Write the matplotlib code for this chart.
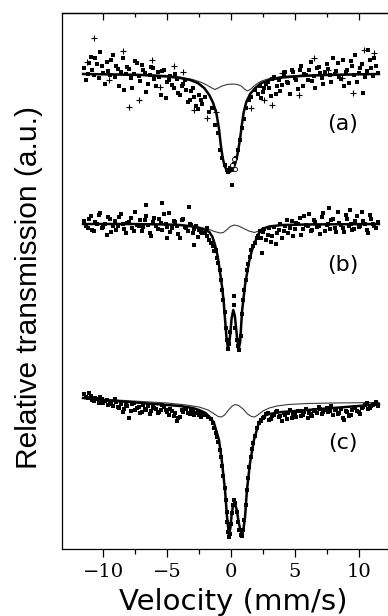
import numpy as np
import matplotlib.pyplot as plt

# Mossbauer spectra, three samples stacked with an offset (a.u.)
# wing channels of the spectrometer (mm/s)
v_left = np.arange(-11.5, -2.4, 0.25)
v_right = np.arange(2.5, 11.6, 0.25)
v_left2 = v_left + 0.125
v_right2 = v_right - 0.125

# ---------------- spectrum (a) ----------------
a_left = [481, 475, 492, 474, 485, 497, 476, 487, 474, 494, 483, 463, 491, 475, 480, 461, 488, 473, 484,
          476, 465, 482, 470, 477, 454, 479, 467, 473, 461, 470, 454, 465, 459, 449, 461, 443, 454]
a_right = [457, 465, 461, 470, 455, 469, 464, 477, 466, 479, 471, 460, 483, 475, 469, 487, 473, 481, 476,
           465, 485, 474, 491, 478, 472, 489, 477, 466, 483, 494, 476, 485, 472, 499, 481, 491, 476]
a_left2 = [469, 486, 479, 491, 471, 483, 465, 478, 489, 472, 480, 477, 459, 482, 471, 475, 486, 468, 479,
           457, 474, 481, 463, 472, 478, 451, 469, 464, 475, 456, 463, 469, 447, 458, 452, 440, 449]
a_right2 = [451, 461, 467, 453, 472, 463, 458, 474, 467, 455, 477, 469, 479, 463, 474, 479, 468, 461, 482,
            471, 477, 480, 467, 475, 486, 470, 463, 479, 488, 474, 467, 481, 456, 478, 489, 473, 483]
a_mid_v = [-2.25, -2.0, -1.75, -1.5, -1.25, -1.0, -0.85, -0.7, -0.5, -0.35, -0.2, -0.05, 0.1, 0.25,
           0.4, 0.55, 0.7, 0.85, 1.0, 1.2, 1.4, 1.6, 1.85, 2.1, 2.3, 0.1]
a_mid = [445, 452, 437, 441, 424, 416, 399, 391, 384, 379, 377, 381, 379, 385,
         391, 399, 409, 421, 430, 441, 449, 452, 459, 455, 463, 364]
a_plus_v = [-10.75, -8.5, -8.0, -7.2, -5.6, -2.9, -4.5, -6.2, -9.6, -11.3, -1.9, 10.4,
            11.2, 9.6, 8.7, 6.5, 4.0, 2.6, 3.2, 7.6, 5.3, 1.6, -3.8, -1.2]
a_plus = [511, 498, 442, 449, 462, 439, 483, 489, 469, 487, 431, 499,
          496, 456, 471, 491, 476, 449, 444, 479, 454, 441, 477, 437]
a_circ_v = [0.05, 0.2, 0.35]
a_circ = [384, 390, 380]
a_fit_v = [-11.6, -9, -7, -5, -4, -3.2, -2.6, -2.1, -1.7, -1.4, -1.15, -0.95, -0.8, -0.65, -0.5, -0.3,
           -0.1, 0.1, 0.3, 0.5, 0.7, 0.85, 1.0, 1.2, 1.5, 1.9, 2.4, 3.0, 4.0, 5.5, 7.5, 9.5, 11.6]
a_fit = [475, 474.5, 474, 472.5, 471, 469, 466, 461, 454, 446, 436, 421, 404, 391, 383, 378,
         377, 379, 384, 394, 409, 424, 437, 447, 455, 461, 466, 469, 471.5, 473, 474, 474.5, 475]
a_sub_v = [-11.6, -7, -5, -4, -3, -2.4, -1.9, -1.5, -1.25, -1.0, -0.7, -0.3, 0.1, 0.5, 0.8, 1.05,
           1.3, 1.55, 1.9, 2.4, 3.0, 4.0, 5.5, 8, 11.6]
a_sub = [475, 474.5, 473.5, 472, 469.5, 467, 464, 461, 459.5, 461, 463, 464.5, 465, 464.5, 463, 460,
         458, 460, 464, 468, 470.5, 472.5, 473.8, 474.5, 475]

# ---------------- spectrum (b) ----------------
b_left = [328, 321, 333, 318, 325, 336, 322, 314, 330, 323, 319, 332, 325, 316, 327, 321, 337, 323, 318,
          329, 324, 313, 331, 320, 326, 335, 322, 317, 328, 323, 311, 330, 321, 325, 316, 323, 319]
b_left2 = [323, 330, 319, 327, 334, 321, 325, 332, 317, 328, 323, 335, 320, 326, 331, 318, 324, 329, 322,
           333, 316, 327, 323, 330, 319, 325, 336, 321, 327, 315, 329, 322, 318, 324, 320, 312, 317]
b_right = [317, 309, 321, 313, 305, 319, 311, 323, 316, 328, 320, 325, 314, 333, 323, 318, 329, 322, 315,
           336, 324, 320, 330, 317, 326, 321, 334, 323, 319, 328, 322, 337, 325, 316, 330, 323, 327]
b_right2 = [311, 320, 314, 307, 322, 316, 325, 318, 329, 321, 313, 326, 331, 320, 324, 335, 319, 327, 323,
            332, 318, 325, 329, 321, 337, 324, 317, 330, 325, 320, 333, 323, 328, 319, 334, 325, 321]
b_mid_v = [-2.25, -2.0, -1.85, -1.7, -1.55, -1.4, -1.3, -1.2, -1.1, -1.0, -0.9, -0.8, -0.7, -0.6, -0.5,
           -0.4, -0.3, -0.22, -0.15, -0.05, 0.2, 0.22, 0.35, 0.45, 0.55, 0.65, 0.75, 0.85, 0.95, 1.05,
           1.15, 1.25, 1.35, 1.5, 1.6, 1.75, 1.85, 2.0, 2.15, 2.3, -2.9, -5.0, -6.7, -5.4, -3.3, 7.7,
           9.3, 2.4, -1.9]
b_mid = [316, 316, 313, 309, 306, 303, 298, 299, 291, 286, 279, 269, 259, 249, 237,
         221, 209, 200, 205, 217, 253, 244, 221, 209, 203, 199, 213, 235, 249, 259,
         269, 279, 285, 292, 299, 303, 306, 311, 313, 318, 304, 311, 344, 346, 342, 341,
         339, 296, 321]
b_fit_v = [-11.6, -8, -5, -4, -3, -2.5, -2.0, -1.7, -1.45, -1.25, -1.05, -0.86, -0.7, -0.57, -0.45,
           -0.35, -0.25, -0.15, -0.05, 0.05, 0.18, 0.3, 0.4, 0.5, 0.62, 0.72, 0.86, 1.1, 1.41, 1.65,
           1.88, 2.15, 2.43, 3.0, 4.0, 6.0, 11.6]
b_fit = [325, 325, 324.5, 324, 322.5, 321, 319, 317, 312, 304, 293, 277, 262, 247, 227,
         211, 202, 204, 216, 231, 239, 233, 221, 208, 201, 207, 237, 264, 287, 299,
         307, 315, 320, 322.5, 324, 324.5, 325]
b_sub_v = [-11.6, -5, -3.5, -2.5, -1.8, -1.3, -0.85, -0.6, -0.35, -0.05, 0.25, 0.6, 1.0, 1.4, 1.85,
           2.15, 2.5, 3.0, 4.0, 6.0, 11.6]
b_sub = [325, 324.5, 323.5, 322, 320, 317.5, 316, 316.5, 319, 322.5, 324, 323, 320.5, 318, 316.5,
         318, 320.5, 322.5, 324, 324.7, 325]

# ---------------- spectrum (c) ----------------
c_left = [155, 151, 153, 148, 150, 152, 146, 149, 145, 143, 147, 141, 137, 144, 131, 145, 139, 142, 137,
          140, 143, 138, 141, 136, 139, 142, 137, 140, 133, 128, 132, 137, 140, 135, 138, 136, 134]
c_left2 = [152, 156, 149, 151, 146, 150, 148, 144, 147, 150, 142, 145, 140, 143, 138, 146, 141, 136, 144,
           139, 135, 142, 140, 137, 144, 139, 134, 138, 136, 131, 139, 141, 136, 139, 134, 137, 132]
c_right = [131, 135, 129, 133, 137, 132, 128, 134, 136, 131, 135, 138, 133, 137, 131, 135, 139, 136, 140,
           137, 141, 138, 134, 140, 136, 131, 138, 133, 139, 142, 137, 141, 144, 140, 143, 145, 143]
c_right2 = [128, 132, 136, 130, 134, 138, 133, 136, 130, 139, 135, 132, 138, 134, 140, 136, 133, 138, 142,
            135, 139, 137, 143, 139, 135, 140, 129, 137, 134, 141, 138, 135, 142, 146, 141, 144, 147]
c_mid_v = [-2.25, -2.0, -1.8, -1.6, -1.45, -1.3, -1.2, -1.1, -1.0, -0.9, -0.8, -0.7, -0.6, -0.5, -0.42,
           -0.35, -0.28, -0.2, -0.15, -0.1, -0.02, 0.05, 0.15, 0.25, 0.35, 0.45, 0.55, 0.65, 0.75, 0.85,
           0.95, 1.05, 1.15, 1.25, 1.35, 1.45, 1.55, 1.65, 1.75, 1.9, 2.05, 2.2, 2.35]
c_mid = [136, 134, 132, 130, 126, 121, 116, 112, 107, 99, 92, 83, 73, 61, 49,
         37, 27, 17, 12, 15, 25, 36, 44, 49, 46, 37, 27, 19, 14, 13,
         19, 29, 44, 59, 71, 82, 92, 100, 106, 113, 121, 126, 129]
c_fit_v = [-11.6, -10, -8, -6, -4, -3, -2.5, -2.0, -1.6, -1.33, -1.15, -0.94, -0.7, -0.47, -0.31, -0.16,
           -0.05, 0.05, 0.15, 0.3, 0.45, 0.6, 0.75, 0.9, 1.0, 1.1, 1.25, 1.49, 1.8, 2.2, 2.6, 3.0, 4.0,
           6.0, 8.0, 10.0, 11.6]
c_fit = [151, 149, 147, 145, 143, 141, 139, 136, 131, 126, 118, 109, 86, 59, 32, 14,
         21, 34, 43, 46, 39, 27, 18, 15, 22, 32, 59, 86, 109, 127, 133, 135, 137,
         139, 141, 143, 145]
c_sub_v = [-11.6, -9, -7, -5, -3.5, -2.5, -1.8, -1.3, -1.0, -0.75, -0.5, -0.2, 0.1, 0.35, 0.6, 0.95,
           1.3, 1.6, 1.85, 2.1, 2.5, 3.0, 3.6, 4.5, 6.0, 8.0, 11.6]
c_sub = [151, 149, 147.5, 146, 144, 142, 139, 135, 132.5, 132, 134, 139, 143, 144.5, 143.5, 140,
         135, 132.5, 132, 134, 138, 141, 143, 144.5, 145.5, 146, 146.5]

panel_labels = ['(a)', '(b)', '(c)']
label_y = [425, 284, 106]

# figure 388x616 px
fig = plt.figure(figsize=(3.88, 6.16), dpi=100)
ax = fig.add_axes([62 / 388, 1 - 549 / 616, 326 / 388, 536 / 616])

# fitted curves: thick = total fit, thin = sub-component
for fv, fy, sv, sy in [(a_fit_v, a_fit, a_sub_v, a_sub),
                       (b_fit_v, b_fit, b_sub_v, b_sub),
                       (c_fit_v, c_fit, c_sub_v, c_sub)]:
    ax.plot(sv, sy, color='#3a3a3a', lw=0.8)
    ax.plot(fv, fy, color='black', lw=1.8)

# experimental points
sq = dict(ls='none', marker='s', ms=2.8, color='black', mew=0)
for left, left2, right, right2, mv, my in [(a_left, a_left2, a_right, a_right2, a_mid_v, a_mid),
                                          (b_left, b_left2, b_right, b_right2, b_mid_v, b_mid),
                                          (c_left, c_left2, c_right, c_right2, c_mid_v, c_mid)]:
    ax.plot(v_left, left, **sq)
    ax.plot(v_left2, left2, **sq)
    ax.plot(v_right, right, **sq)
    ax.plot(v_right2, right2, **sq)
    ax.plot(mv, my, **sq)
ax.plot(a_plus_v, a_plus, ls='none', marker='+', ms=4, mew=0.8, color='black')
ax.plot(a_circ_v, a_circ, ls='none', marker='o', ms=3, mew=0.6, mfc='white', color='black')

for lab, ly in zip(panel_labels, label_y):
    ax.text(8.78, ly, lab, ha='center', va='center', fontsize=16, family='DejaVu Sans')

ax.set_xlim(-13.25, 12.31)
ax.set_ylim(0, 536)
ax.set_yticks([])
ax.spines['right'].set_visible(False)
for s in ['left', 'top', 'bottom']:
    ax.spines[s].set_linewidth(0.9)

# bottom ticks outward with serif labels
ax.set_xticks([-10, -5, 0, 5, 10])
ax.set_xticks([-7.5, -2.5, 2.5, 7.5], minor=True)
ax.tick_params(axis='x', which='major', direction='out', length=5.8, width=0.9, pad=4,
               labelsize=14, top=False)
ax.tick_params(axis='x', which='minor', direction='out', length=3.6, width=0.9, top=False)
for t in ax.get_xticklabels():
    t.set_family('DejaVu Serif')

# top ticks inward
sec = ax.secondary_xaxis('top')
sec.set_xticks([-10, -5, 0, 5, 10])
sec.set_xticks([-7.5, -2.5, 2.5, 7.5], minor=True)
sec.tick_params(which='major', direction='in', length=5, width=0.9, labeltop=False)
sec.tick_params(which='minor', direction='in', length=3, width=0.9)
sec.spines['top'].set_linewidth(0.9)

# axis titles
fig.text(233 / 388, 5.5 / 616, 'Velocity (mm/s)', ha='center', va='baseline',
         fontsize=21, family='DejaVu Sans')
ax.set_ylabel('Relative transmission (a.u.)', fontsize=21.5, family='Liberation Sans')
ax.yaxis.set_label_coords(-0.058, 0.487)

fig.savefig('out.png', dpi=100)
